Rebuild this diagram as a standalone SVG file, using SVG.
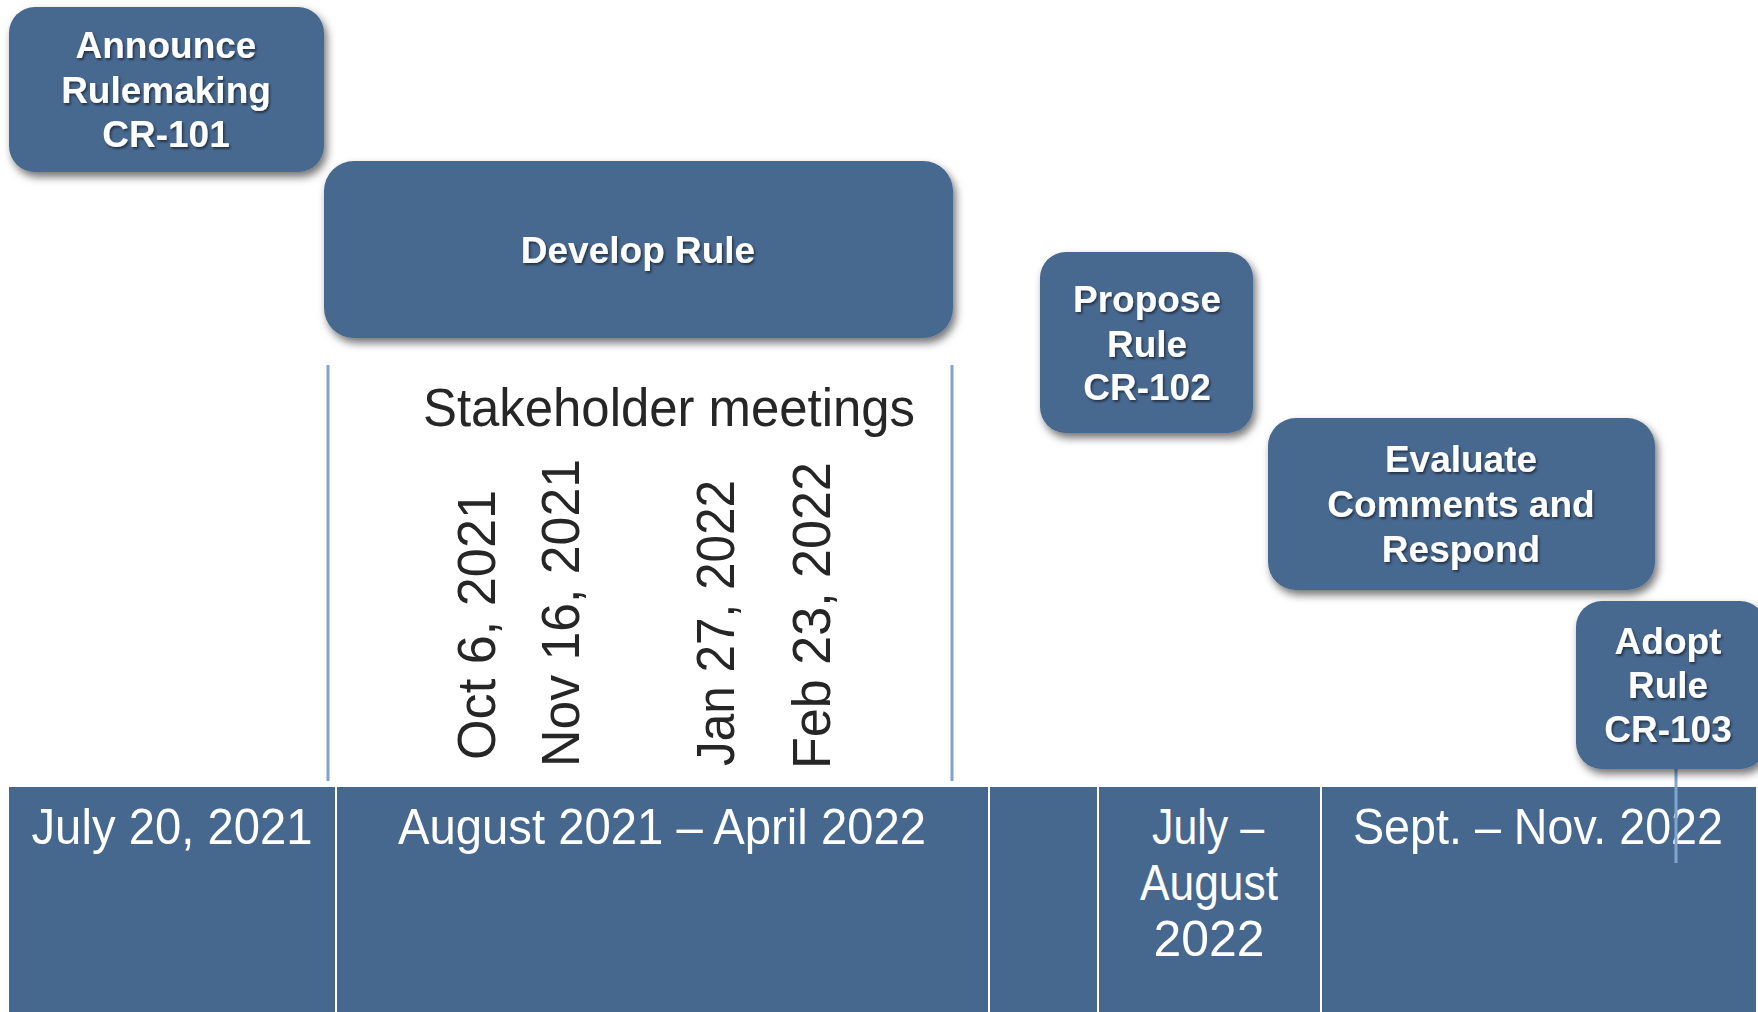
<svg xmlns="http://www.w3.org/2000/svg" width="1758" height="1012" viewBox="0 0 1758 1012">
<style>
.node{fill:#46688F;filter:url(#sh)}
.nt{font-family:"Liberation Sans",Arial,sans-serif;font-weight:bold;font-size:37px;fill:#fff;text-anchor:middle;filter:url(#tsh)}
.cell{fill:#46688E}
.sep{stroke:#fff;stroke-width:2}
.ct{font-family:"Liberation Sans",Arial,sans-serif;font-size:50px;fill:#fff;text-anchor:middle}
.vl{stroke:#7FA6D2;stroke-width:3}
.dt{font-family:"Liberation Sans",Arial,sans-serif;font-size:53px;fill:#262626}
</style>
<defs>
<filter id="sh" x="-10%" y="-10%" width="130%" height="140%">
<feDropShadow dx="3" dy="5" stdDeviation="4" flood-color="#000" flood-opacity="0.55"/>
</filter>
<filter id="tsh" x="-10%" y="-20%" width="130%" height="150%">
<feDropShadow dx="1.5" dy="2" stdDeviation="1" flood-color="#000" flood-opacity="0.5"/>
</filter>
</defs>
<rect width="1758" height="1012" fill="#fff"/>

<g id="timeline">
<rect class="cell" x="9" y="787" width="1747" height="225"/>
<line class="sep" x1="336" y1="787" x2="336" y2="1012"/>
<line class="sep" x1="989" y1="787" x2="989" y2="1012"/>
<line class="sep" x1="1098" y1="787" x2="1098" y2="1012"/>
<line class="sep" x1="1321" y1="787" x2="1321" y2="1012"/>
<text class="ct" x="172" y="844" textLength="281" lengthAdjust="spacingAndGlyphs">July 20, 2021</text>
<text class="ct" x="662" y="844" textLength="528" lengthAdjust="spacingAndGlyphs">August 2021 – April 2022</text>
<text class="ct" x="1208" y="844" textLength="112" lengthAdjust="spacingAndGlyphs">July –</text>
<text class="ct" x="1209" y="900" textLength="138" lengthAdjust="spacingAndGlyphs">August</text>
<text class="ct" x="1209" y="956" textLength="111" lengthAdjust="spacingAndGlyphs">2022</text>
<text class="ct" x="1538" y="844" textLength="370" lengthAdjust="spacingAndGlyphs">Sept. – Nov. 2022</text>
</g>

<g id="stakeholder">
<line class="vl" x1="328" y1="365" x2="328" y2="781"/>
<line class="vl" x1="952" y1="365" x2="952" y2="781"/>
<text x="423" y="426" font-family="'Liberation Sans',Arial,sans-serif" font-size="54" fill="#262626" textLength="492" lengthAdjust="spacingAndGlyphs">Stakeholder meetings</text>
<text class="dt" transform="translate(495,760) rotate(-90)" textLength="270" lengthAdjust="spacingAndGlyphs">Oct 6, 2021</text>
<text class="dt" transform="translate(579,767) rotate(-90)" textLength="308" lengthAdjust="spacingAndGlyphs">Nov 16, 2021</text>
<text class="dt" transform="translate(734,766) rotate(-90)" textLength="286" lengthAdjust="spacingAndGlyphs">Jan 27, 2022</text>
<text class="dt" transform="translate(830,769) rotate(-90)" textLength="307" lengthAdjust="spacingAndGlyphs">Feb 23, 2022</text>
</g>

<g id="connectors">
<line class="vl" x1="1676" y1="769" x2="1676" y2="863"/>
</g>

<g id="announce">
<rect class="node" x="9" y="7" width="315" height="165" rx="26"/>
<text class="nt" x="166" y="58">Announce</text>
<text class="nt" x="166" y="103">Rulemaking</text>
<text class="nt" x="166" y="147">CR-101</text>
</g>

<g id="develop">
<rect class="node" x="324" y="161" width="629" height="177" rx="30"/>
<text class="nt" x="638" y="263">Develop Rule</text>
</g>

<g id="propose">
<rect class="node" x="1040" y="252" width="213" height="181" rx="26"/>
<text class="nt" x="1147" y="312">Propose</text>
<text class="nt" x="1147" y="357">Rule</text>
<text class="nt" x="1147" y="400">CR-102</text>
</g>

<g id="evaluate">
<rect class="node" x="1268" y="418" width="387" height="172" rx="28"/>
<text class="nt" x="1461" y="472">Evaluate</text>
<text class="nt" x="1461" y="517">Comments and</text>
<text class="nt" x="1461" y="562">Respond</text>
</g>

<g id="adopt">
<rect class="node" x="1576" y="601" width="190" height="168" rx="26"/>
<text class="nt" x="1668" y="654">Adopt</text>
<text class="nt" x="1668" y="698">Rule</text>
<text class="nt" x="1668" y="742">CR-103</text>
</g>
</svg>
